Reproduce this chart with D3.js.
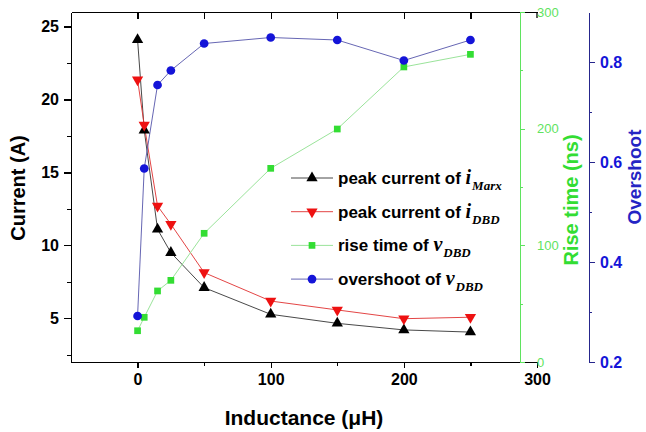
<!DOCTYPE html>
<html>
<head>
<meta charset="utf-8">
<script src="https://cdn.jsdelivr.net/npm/d3@7"></script>
<style>
  body { margin: 0; background: #fff; }
  svg { display: block; font-family: Arial, "Liberation Sans", sans-serif; }
  .axis path, .axis line { shape-rendering: crispEdges; }
</style>
</head>
<body>
<div id="chart"></div>
<script>
// data
const inductance = [0, 5, 15, 25, 50, 100, 150, 200, 250];
const peakMarx   = [24.1, 17.9, 11.1, 9.5, 7.1, 5.27, 4.65, 4.2, 4.05];
const peakDBD    = [21.35, 18.25, 12.7, 11.45, 8.13, 6.18, 5.57, 4.97, 5.07];
const riseTime   = [26.8, 38.3, 60.9, 70, 110.3, 166, 199.7, 252.9, 263.7];
const overshoot  = [0.292, 0.587, 0.754, 0.783, 0.837, 0.849, 0.844, 0.803, 0.844];

const xTicks = [0, 100, 200, 300];
const xMinor = [50, 150, 250];
const xTopTicks = [0, 50, 100, 150, 200, 250];
const currentTicks = [5, 10, 15, 20, 25];
const currentMinor = [2.5, 7.5, 12.5, 17.5, 22.5];
const riseTicks = [0, 100, 200, 300];
const riseMinor = [50, 150, 250];
const overTicks = [0.2, 0.4, 0.6, 0.8];
const overMinor = [0.3, 0.5, 0.7];

const width = 646, height = 432;
const GREEN = "#33dd33", GREEN_AXIS = "#5fe35f", BLUE = "#1414d8", NAVY = "#26268c";

const svg = d3.select("#chart").append("svg")
  .attr("width", width)
  .attr("height", height);

const x = d3.scaleLinear().domain([-50, 300]).range([71, 537]);
const yCur = d3.scaleLinear().domain([2, 26]).range([362, 12]);
const yRise = d3.scaleLinear().domain([0, 300]).range([362, 12]);
const yOver = d3.scaleLinear().domain([0.2, 0.9]).range([362, 12]);

function styleAxis(g, color, weight, size) {
  g.select(".domain").attr("stroke", color).attr("stroke-width", 1.5);
  g.selectAll(".tick line").attr("stroke", color).attr("stroke-width", 1.3);
  g.selectAll(".tick text")
    .attr("fill", color)
    .attr("font-weight", weight)
    .attr("font-size", size + "px");
}

// bottom axis
const xAx = svg.append("g").attr("class", "axis").attr("transform", "translate(0,362)")
  .call(d3.axisBottom(x).tickValues(xTicks).tickSize(6).tickSizeOuter(0).tickPadding(6).tickFormat(d3.format("d")));
styleAxis(xAx, "#000", "bold", 16);
svg.append("g").attr("class", "axis").attr("transform", "translate(0,362)")
  .call(d3.axisBottom(x).tickValues(xMinor).tickSize(4).tickFormat(""))
  .call(g => g.select(".domain").remove())
  .selectAll("line").attr("stroke", "#000").attr("stroke-width", 1.3);

// top frame
svg.append("g").attr("class", "axis").attr("transform", "translate(0,12)")
  .call(d3.axisBottom(x).tickValues(xTopTicks).tickSize(7).tickSizeOuter(0).tickFormat(""))
  .call(g => g.select(".domain").attr("stroke", "#000").attr("stroke-width", 1.5))
  .selectAll("line").attr("stroke", "#000").attr("stroke-width", 1.3);
svg.append("line")
  .attr("x1", x(300)).attr("x2", x(300))
  .attr("y1", 12).attr("y2", 18)
  .attr("stroke", "#000").attr("stroke-width", 1.3);

// left axis
const yAx = svg.append("g").attr("class", "axis").attr("transform", "translate(71,0)")
  .call(d3.axisLeft(yCur).tickValues(currentTicks).tickSize(7).tickSizeOuter(0).tickPadding(5));
styleAxis(yAx, "#000", "bold", 16);
svg.append("g").attr("class", "axis").attr("transform", "translate(71,0)")
  .call(d3.axisLeft(yCur).tickValues(currentMinor).tickSize(4).tickFormat(""))
  .call(g => g.select(".domain").remove())
  .selectAll("line").attr("stroke", "#000").attr("stroke-width", 1.3);

// green rise time axis
const gAx = svg.append("g").attr("class", "axis").attr("transform", "translate(520,0)")
  .call(d3.axisRight(yRise).tickValues(riseTicks).tickSize(5).tickSizeOuter(0).tickPadding(12));
styleAxis(gAx, GREEN_AXIS, "normal", 13);
svg.append("g").attr("class", "axis").attr("transform", "translate(520,0)")
  .call(d3.axisRight(yRise).tickValues(riseMinor).tickSize(3).tickFormat(""))
  .call(g => g.select(".domain").remove())
  .selectAll("line").attr("stroke", GREEN_AXIS).attr("stroke-width", 1.3);

// blue overshoot axis
const bAx = svg.append("g").attr("class", "axis").attr("transform", "translate(589,0)")
  .call(d3.axisRight(yOver).tickValues(overTicks).tickSize(6).tickSizeOuter(0).tickPadding(5).tickFormat(d3.format(".1f")));
styleAxis(bAx, NAVY, "bold", 16);
bAx.selectAll(".tick text").attr("fill", BLUE);
svg.append("g").attr("class", "axis").attr("transform", "translate(589,0)")
  .call(d3.axisRight(yOver).tickValues(overMinor).tickSize(3).tickFormat(""))
  .call(g => g.select(".domain").remove())
  .selectAll("line").attr("stroke", NAVY).attr("stroke-width", 1.3);

// axis titles
svg.append("text")
  .attr("x", 304).attr("y", 425)
  .attr("text-anchor", "middle")
  .attr("font-size", "21px").attr("font-weight", "bold")
  .text("Inductance (\u03bcH)");
svg.append("text")
  .attr("transform", "translate(25,188) rotate(-90)")
  .attr("text-anchor", "middle")
  .attr("font-size", "20px").attr("font-weight", "bold")
  .text("Current (A)");
svg.append("text")
  .attr("transform", "translate(578,200) rotate(-90)")
  .attr("text-anchor", "middle")
  .attr("font-size", "20px").attr("font-weight", "bold")
  .attr("fill", GREEN)
  .text("Rise time (ns)");
svg.append("text")
  .attr("transform", "translate(641,177) rotate(-90)")
  .attr("text-anchor", "middle")
  .attr("font-size", "19px").attr("font-weight", "bold")
  .attr("fill", "#2424c4")
  .text("Overshoot");

const series = [
  { values: peakMarx, y: yCur, color: "#000", line: "#333", shape: "up",     label: "peak current of ", sym: "i", sub: "Marx" },
  { values: peakDBD,  y: yCur, color: "#ee1111", line: "#e03030", shape: "down", label: "peak current of ", sym: "i", sub: "DBD" },
  { values: riseTime, y: yRise, color: GREEN, line: "#8fe08f", shape: "square", label: "rise time of ", sym: "v", sub: "DBD" },
  { values: overshoot, y: yOver, color: BLUE, line: "#5555aa", shape: "circle", label: "overshoot of ", sym: "v", sub: "DBD" }
];

const symbolFor = {
  up: d3.symbol().type(d3.symbolTriangle).size(55),
  down: d3.symbol().type(d3.symbolTriangle).size(55),
  square: d3.symbol().type(d3.symbolSquare).size(45),
  circle: d3.symbol().type(d3.symbolCircle).size(60)
};

function drawMarker(g, s, cx, cy) {
  g.append("path")
    .attr("d", symbolFor[s.shape]())
    .attr("transform", `translate(${cx},${cy})` + (s.shape === "down" ? " rotate(180)" : ""))
    .attr("fill", s.color);
}

series.forEach(s => {
  const pts = inductance.map((d, i) => [x(d), s.y(s.values[i])]);
  svg.append("path")
    .attr("d", d3.line()(pts))
    .attr("fill", "none")
    .attr("stroke", s.line)
    .attr("stroke-width", 0.9);
});
series.forEach(s => {
  const g = svg.append("g");
  inductance.forEach((d, i) => drawMarker(g, s, x(d), s.y(s.values[i])));
});

// legend
const legend = svg.append("g");
series.forEach((s, i) => {
  const cy = 178 + i * 33.7;
  legend.append("line")
    .attr("x1", 291).attr("x2", 333)
    .attr("y1", cy).attr("y2", cy)
    .attr("stroke", s.line).attr("stroke-width", 0.9);
  drawMarker(legend, s, 312, cy);
  const t = legend.append("text")
    .attr("x", 338).attr("y", cy + 6)
    .attr("font-size", "17px").attr("font-weight", "bold");
  t.append("tspan").text(s.label);
  t.append("tspan")
    .attr("font-family", "'Liberation Serif', 'Times New Roman', serif")
    .attr("font-style", "italic").attr("font-size", "20px")
    .text(s.sym);
  t.append("tspan")
    .attr("font-family", "'Liberation Serif', 'Times New Roman', serif")
    .attr("font-style", "italic").attr("font-size", "13px")
    .attr("dx", 1).attr("dy", 6)
    .text(s.sub);
});
</script>
</body>
</html>
